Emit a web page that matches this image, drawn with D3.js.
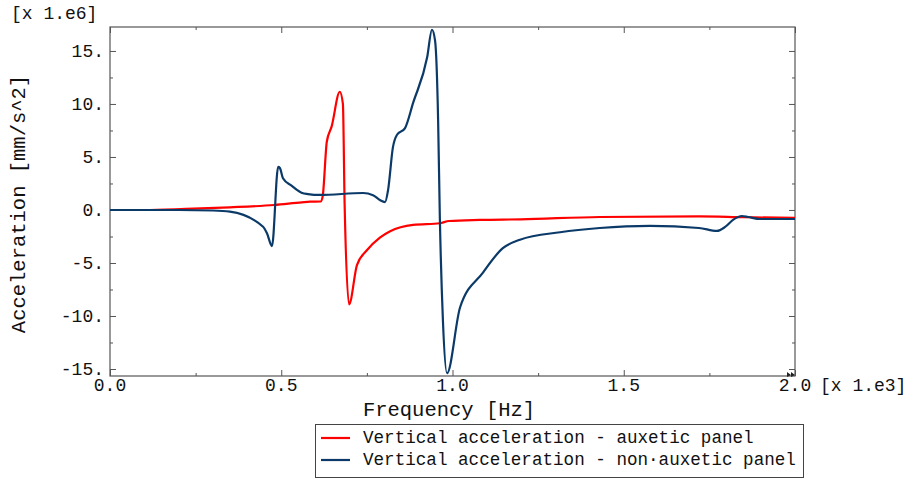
<!DOCTYPE html>
<html><head><meta charset="utf-8">
<script src="https://cdn.jsdelivr.net/npm/d3@7"></script>
<style>body{margin:0;background:#fff}svg text{font-family:"Liberation Mono","Courier New",monospace}</style>
</head><body><svg id="c" width="914" height="480"></svg>
<script>
// Frequency in units of 1e3 Hz, acceleration in units of 1e6 mm/s^2
const auxFreq = [0, 0.1, 0.22, 0.35, 0.48, 0.56, 0.584, 0.615, 0.621, 0.633, 0.647, 0.671, 0.68, 0.685, 0.698, 0.721, 0.75, 0.788, 0.818, 0.885, 0.963, 0.99, 1.08, 1.2, 1.43, 1.72, 1.85, 2.0];
const auxVal  = [0, 0, 0.1, 0.25, 0.47, 0.72, 0.78, 0.8, 1.3, 6.44, 7.86, 11.15, 10.0, 0.6, -8.9, -5.2, -3.8, -2.6, -2.0, -1.4, -1.25, -1.04, -0.94, -0.88, -0.66, -0.6, -0.68, -0.75];
const nonFreq = [0, 0.2, 0.3, 0.35, 0.447, 0.458, 0.473, 0.491, 0.496, 0.505, 0.53, 0.561, 0.578, 0.613, 0.739, 0.768, 0.788, 0.803, 0.812, 0.826, 0.838, 0.861, 0.885, 0.926, 0.940, 0.949, 0.958, 0.963, 0.972, 0.984, 1.022, 1.089, 1.147, 1.197, 1.314, 1.43, 1.577, 1.72, 1.772, 1.796, 1.819, 1.845, 1.863, 1.898, 1.947, 2.0];
const nonVal  = [0, 0, -0.05, -0.16, -1.58, -2.17, -3.4, 4.06, 3.96, 3.0, 2.3, 1.6, 1.5, 1.42, 1.6, 1.4, 0.94, 0.75, 1.9, 5.9, 7.1, 7.7, 10.1, 14.4, 17.0, 16.0, 8.5, -0.66, -10.4, -15.4, -9.2, -5.9, -3.6, -2.8, -2.1, -1.7, -1.5, -1.7, -1.98, -1.6, -0.94, -0.57, -0.66, -0.85, -0.85, -0.85];
const xTicks = [0, 0.5, 1.0, 1.5, 2.0];
const xTickLabels = ["0.0", "0.5", "1.0", "1.5", "2.0"];
const yTicks = [15, 10, 5, 0, -5, -10, -15];
const yTickLabels = ["15.", "10.", "5.", "0.", "-5.", "-10.", "-15."];
const seriesNames = ["Vertical acceleration - auxetic panel", "Vertical acceleration - non\u00b7auxetic panel"];
const seriesColors = ["#ff0000", "#0b3a68"];

const svg = d3.select("#c");
const L = 110, R = 795, T = 27, B = 376;
const x = d3.scaleLinear().domain([0, 2]).range([L, R]);
const y = d3.scaleLinear().domain([-15.66, 17.26]).range([B, T]);
const axisCol = "#555";
const txt = "#111";

svg.append("rect").attr("x", L).attr("y", T).attr("width", R - L).attr("height", B - T)
  .attr("fill", "none").attr("stroke", axisCol).attr("stroke-width", 1.2);

const xMinor = d3.range(0.25, 2, 0.5);
const yMinor = d3.range(-15, 17.5, 5).map(v => v + 2.5).filter(v => v < 17.26);

function tickAxis(axisGen, tr) {
  const g = svg.append("g").attr("transform", tr).call(axisGen);
  g.select(".domain").remove();
  g.selectAll("line").attr("stroke", axisCol);
  g.selectAll("text").remove();
  return g;
}
tickAxis(d3.axisTop(x).tickValues(xTicks).tickSize(6), `translate(0,${B})`);
tickAxis(d3.axisTop(x).tickValues(xMinor).tickSize(3), `translate(0,${B})`);
tickAxis(d3.axisBottom(x).tickValues(xTicks).tickSize(6), `translate(0,${T})`);
tickAxis(d3.axisBottom(x).tickValues(xMinor).tickSize(3), `translate(0,${T})`);
tickAxis(d3.axisRight(y).tickValues(yTicks).tickSize(6), `translate(${L},0)`);
tickAxis(d3.axisRight(y).tickValues(yMinor).tickSize(3), `translate(${L},0)`);
tickAxis(d3.axisLeft(y).tickValues(yTicks).tickSize(6), `translate(${R},0)`);
tickAxis(d3.axisLeft(y).tickValues(yMinor).tickSize(3), `translate(${R},0)`);

svg.append("g").selectAll("text").data(xTicks).join("text")
  .attr("x", d => x(d)).attr("y", B + 15).attr("text-anchor", "middle")
  .attr("font-size", 18).attr("fill", txt).text((d, i) => xTickLabels[i]);
svg.append("g").selectAll("text").data(yTicks).join("text")
  .attr("x", L - 6).attr("y", d => y(d) + 6).attr("text-anchor", "end")
  .attr("font-size", 18).attr("fill", txt).text((d, i) => yTickLabels[i]);

svg.append("path").attr("d", `M${R-8},${B-4} L${R-4},${B-1} L${R-8},${B+1}Z M${R-4},${B-4} L${R},${B-1} L${R-4},${B+1}Z`).attr("fill", "#222");

svg.append("text").attr("x", 820).attr("y", B + 15).attr("font-size", 18).attr("fill", txt).text("[x 1.e3]");
svg.append("text").attr("x", 11).attr("y", 19).attr("font-size", 18).attr("fill", txt).text("[x 1.e6]");
svg.append("text").attr("x", 449).attr("y", 416).attr("text-anchor", "middle").attr("font-size", 20.5).attr("fill", txt).text("Frequency [Hz]");
svg.append("text").attr("transform", "translate(25,204) rotate(-90)").attr("text-anchor", "middle").attr("font-size", 20.5).attr("fill", txt).text("Acceleration [mm/s^2]");

const line = d3.line().x(d => x(d[0])).y(d => y(d[1])).curve(d3.curveMonotoneX);
svg.append("clipPath").attr("id", "pc").append("rect").attr("x", L).attr("y", T).attr("width", R - L).attr("height", B - T);
const series = [d3.zip(auxFreq, auxVal), d3.zip(nonFreq, nonVal)];
series.forEach((s, i) => {
  svg.append("path").datum(s).attr("d", line).attr("fill", "none")
    .attr("stroke", seriesColors[i]).attr("stroke-width", 2.2).attr("stroke-linejoin", "round")
    .attr("clip-path", "url(#pc)");
});

const lg = svg.append("g");
lg.append("rect").attr("x", 315.5).attr("y", 424.5).attr("width", 488).attr("height", 53).attr("fill", "#fff").attr("stroke", "#444");
seriesNames.forEach((n, i) => {
  const yy = 438 + i * 22;
  lg.append("line").attr("x1", 321).attr("x2", 350).attr("y1", yy).attr("y2", yy).attr("stroke", seriesColors[i]).attr("stroke-width", 2.2);
  lg.append("text").attr("x", 363).attr("y", yy + 5).attr("font-size", 17.6).attr("fill", txt).text(n);
});
</script></body></html>
